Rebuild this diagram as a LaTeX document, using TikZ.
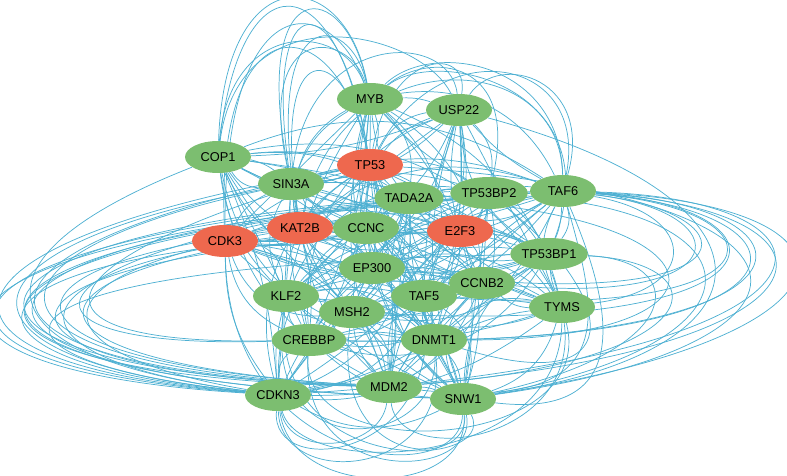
\documentclass[tikz,border=0pt]{standalone}
\usepackage{fontspec}
\setmainfont{Liberation Sans}
\usetikzlibrary{shapes.geometric,backgrounds}
\definecolor{nodegreen}{RGB}{124,190,112}
\definecolor{nodered}{RGB}{238,104,78}
\definecolor{edgeblue}{RGB}{78,176,210}
\begin{document}
\begin{tikzpicture}[x=0.75pt,y=-0.75pt,
  gene/.style={ellipse,fill=nodegreen,minimum width=49.5pt,minimum height=24pt,inner sep=0pt,font=\fontsize{9.6}{10}\selectfont},
  hub/.style={gene,fill=nodered},
  edge/.style={draw=edgeblue,line width=0.55pt}]
\useasboundingbox (0,0) rectangle (787,475);
\node[gene] (MYB) at (370,99) {MYB};
\node[gene] (USP22) at (459,110) {USP22};
\node[gene] (COP1) at (218,157) {COP1};
\node[hub] (TP53) at (370,165) {TP53};
\node[gene] (SIN3A) at (291,184) {SIN3A};
\node[gene] (TADA2A) at (409,198) {TADA2A};
\node[gene] (TP53BP2) at (489,193) {TP53BP2};
\node[gene] (TAF6) at (563,191) {TAF6};
\node[hub] (CDK3) at (225,241) {CDK3};
\node[hub] (KAT2B) at (300,228) {KAT2B};
\node[gene] (CCNC) at (366,228) {CCNC};
\node[hub] (E2F3) at (460,231) {E2F3};
\node[gene] (TP53BP1) at (549,254) {TP53BP1};
\node[gene] (EP300) at (372,268) {EP300};
\node[gene] (CCNB2) at (482,283) {CCNB2};
\node[gene] (KLF2) at (286,296) {KLF2};
\node[gene] (TAF5) at (424,296) {TAF5};
\node[gene] (MSH2) at (352,312) {MSH2};
\node[gene] (TYMS) at (562,307) {TYMS};
\node[gene] (CREBBP) at (309,340) {CREBBP};
\node[gene] (DNMT1) at (434,340) {DNMT1};
\node[gene] (CDKN3) at (278,395) {CDKN3};
\node[gene] (MDM2) at (389,387) {MDM2};
\node[gene] (SNW1) at (463,399) {SNW1};
\begin{pgfonlayer}{background}
% inner edges
\foreach \a [count=\i] in {MYB,USP22,COP1,TP53,SIN3A,TADA2A,TP53BP2,TAF6,CDK3,KAT2B,CCNC,E2F3,TP53BP1,EP300,CCNB2,KLF2,TAF5,MSH2,TYMS,CREBBP,DNMT1,CDKN3,MDM2,SNW1} {
  \foreach \b [count=\j] in {MYB,USP22,COP1,TP53,SIN3A,TADA2A,TP53BP2,TAF6,CDK3,KAT2B,CCNC,E2F3,TP53BP1,EP300,CCNB2,KLF2,TAF5,MSH2,TYMS,CREBBP,DNMT1,CDKN3,MDM2,SNW1} {
    \ifnum\i<\j
      \pgfmathtruncatemacro\m{mod(\i*7+\j*11,8)}
      \ifnum\m>0
        \pgfmathtruncatemacro\bb{mod(\i*13+\j*5,9)*9-36}
        \draw[edge] (\a) to[bend left=\bb] (\b);
      \fi
    \fi
  }
}
% left loops
\foreach \s/\t/\c/\ya/\yb in {
  TAF6/CDKN3/-135/235/370, TP53BP2/CDKN3/-118/240/366, TP53/CDKN3/-98/245/364,
  TADA2A/MDM2/-90/242/370, TAF6/MDM2/-112/238/374, SIN3A/CDKN3/-62/250/360,
  E2F3/CDKN3/-78/246/362, TP53/MDM2/-70/250/368, COP1/CDKN3/-32/255/355,
  TAF6/SNW1/-126/236/378, TP53BP1/CDKN3/-50/266/360, KAT2B/MDM2/-22/266/362,
  CCNC/CDKN3/-10/262/358, TADA2A/CREBBP/0/262/350, TP53/CREBBP/18/266/346,
  SIN3A/MDM2/-42/256/366, E2F3/MDM2/-56/255/372, TP53BP2/SNW1/-104/244/380,
  CCNC/MDM2/-4/270/362, KAT2B/CDKN3/30/275/352} {
  \draw[edge] (\s) .. controls (\c,\ya) and (\c,\yb) .. (\t);
}
% right loops
\foreach \s/\t/\c/\ya/\yb in {
  TAF6/SNW1/880/205/335, TAF6/MDM2/860/210/345, TAF6/CDKN3/870/200/355,
  TAF6/DNMT1/820/212/330, TAF6/TAF5/790/210/320, TAF6/CCNB2/740/212/305,
  TAF6/MSH2/800/208/335, TAF6/CREBBP/840/206/350, TP53/SNW1/850/195/345,
  USP22/SNW1/790/200/350, TP53BP2/SNW1/770/215/345, TAF6/TYMS/700/215/290,
  TP53BP1/SNW1/690/260/350, TAF6/EP300/760/214/318, TADA2A/DNMT1/740/220/340,
  TP53BP1/MDM2/720/262/360} {
  \draw[edge] (\s) .. controls (\c,\ya) and (\c,\yb) .. (\t);
}
% downward loops near TAF6
\draw[edge] (TAF6) .. controls (610,300) and (640,420) .. (SNW1);
\draw[edge] (TAF6) .. controls (600,320) and (620,410) .. (MDM2);
\draw[edge] (TP53BP2) .. controls (620,300) and (630,400) .. (DNMT1);
% top loops
\foreach \s/\t/\ax/\ay/\bx/\by in {
  COP1/MYB/225/-45/345/-35, SIN3A/MYB/250/-30/345/-25, COP1/TP53/240/-40/335/-40,
  SIN3A/TP53/262/-20/340/-20, CDK3/MYB/225/-15/330/-10, KAT2B/MYB/260/0/350/10,
  COP1/USP22/240/-10/420/30, CDK3/TP53/215/0/335/5, COP1/MYB/230/20/340/20,
  SIN3A/MYB/255/20/350/30, KAT2B/TP53/270/30/345/40,
  MYB/TAF6/430/40/560/60, USP22/TAF6/500/50/595/80, TP53/TAF6/440/30/590/55,
  MYB/TP53BP2/430/50/520/60, TP53/USP22/390/50/470/45, SIN3A/USP22/310/30/450/30,
  MYB/TP53BP1/440/45/610/90, KAT2B/TAF6/340/40/560/45} {
  \draw[edge] (\s) .. controls (\ax,\ay) and (\bx,\by) .. (\t);
}
% bottom loops
\foreach \s/\t/\ax/\ay/\bx/\by in {
  CDKN3/SNW1/290/500/470/500, CDKN3/DNMT1/280/490/450/480, CREBBP/SNW1/300/490/480/480,
  KLF2/SNW1/270/480/500/470, CDKN3/TYMS/300/480/560/470, MSH2/SNW1/330/470/470/470,
  CDKN3/TAF5/270/480/440/460, MDM2/TYMS/400/470/580/440, CDKN3/MDM2/290/460/380/450,
  CREBBP/TYMS/300/470/600/450, KLF2/DNMT1/260/470/440/450, CDK3/SNW1/230/470/460/490} {
  \draw[edge] (\s) .. controls (\ax,\ay) and (\bx,\by) .. (\t);
}
\end{pgfonlayer}
\end{tikzpicture}
\end{document}
